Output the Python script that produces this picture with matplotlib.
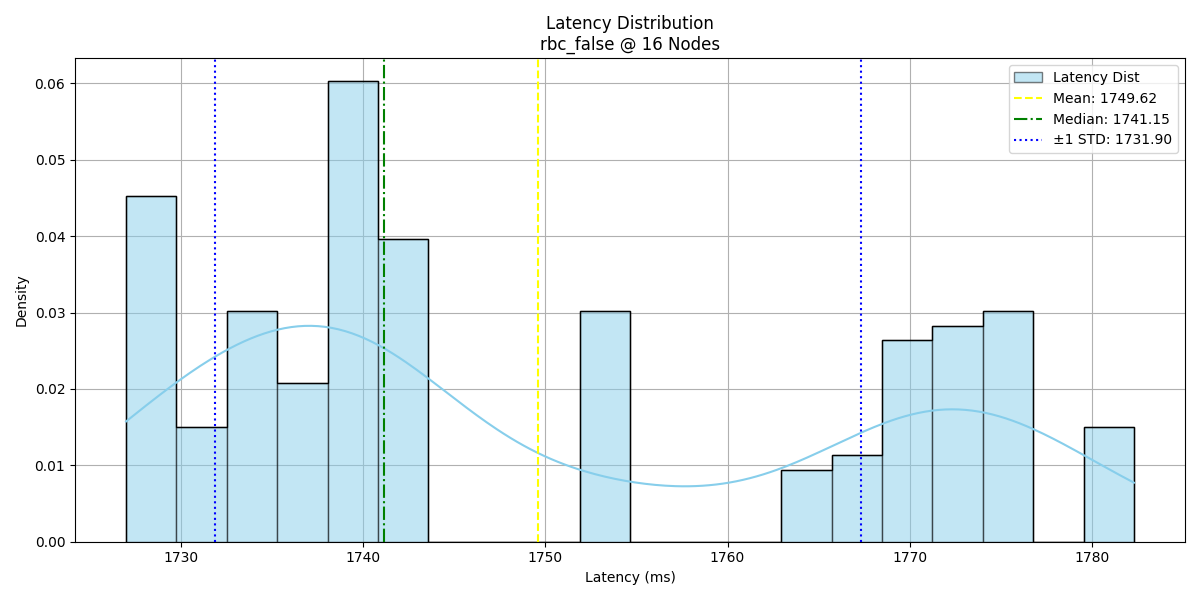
import numpy as np
import matplotlib
matplotlib.use("Agg")
import matplotlib.pyplot as plt

bin_start = 1727.0
bin_end = 1782.3
counts = [24, 8, 16, 11, 32, 21, 0, 0, 0, 16, 0, 0, 0, 5, 6, 14, 15, 16, 0, 8]
mean_v = 1749.62
median_v = 1741.15
std_v = 17.72

edges = np.linspace(bin_start, bin_end, len(counts) + 1)
centers = (edges[:-1] + edges[1:]) / 2
counts = np.array(counts, float)

fig, ax = plt.subplots(figsize=(12, 6), dpi=100)
ax.hist(centers, bins=edges, weights=counts, density=True, color="skyblue",
        alpha=0.5, edgecolor="black", label="Latency Dist", zorder=2)
ax.hist(centers, bins=edges, weights=counts, density=True, histtype="step",
        edgecolor="black", zorder=3)

# KDE (Scott bandwidth) from binned sample
n = counts.sum()
bw = n ** (-1 / 5) * std_v
xs = np.linspace(bin_start, bin_end, 300)
kde = (counts[:, None] * np.exp(-0.5 * ((xs[None, :] - centers[:, None]) / bw) ** 2)).sum(0)
kde /= n * bw * np.sqrt(2 * np.pi)
ax.plot(xs, kde, color="skyblue", zorder=4)

ax.axvline(mean_v, color="yellow", linestyle="--", label=f"Mean: {mean_v:.2f}", zorder=5)
ax.axvline(median_v, color="green", linestyle="-.", label=f"Median: {median_v:.2f}", zorder=5)
ax.axvline(mean_v - std_v, color="blue", linestyle=":", label=f"±1 STD: {mean_v - std_v:.2f}", zorder=5)
ax.axvline(mean_v + std_v, color="blue", linestyle=":", zorder=5)

ax.set_xlim(1724.2, 1785.1)
ax.set_title("Latency Distribution\nrbc_false @ 16 Nodes")
ax.set_xlabel("Latency (ms)")
ax.set_ylabel("Density")
ax.grid(True, zorder=0)
ax.set_axisbelow(True)
ax.legend(loc="upper right")
fig.tight_layout()
fig.savefig("out.png")
